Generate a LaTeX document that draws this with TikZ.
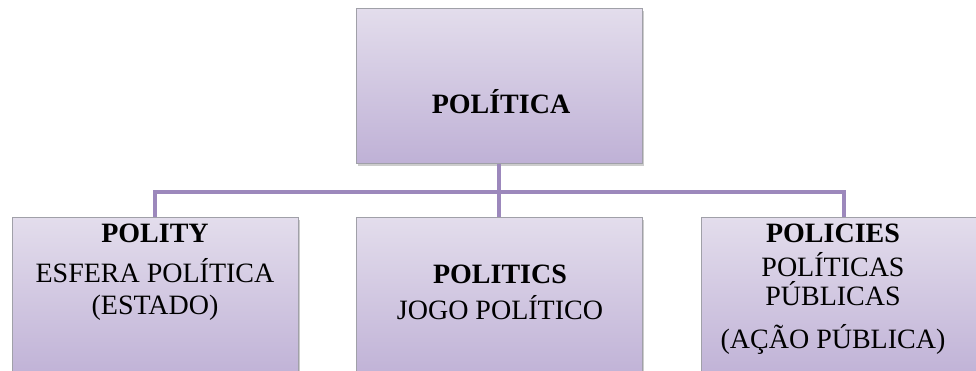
\documentclass[tikz,border=0pt]{standalone}
\usepackage{fontspec}
\setmainfont{Liberation Serif}
\usetikzlibrary{shadows}
\definecolor{boxtop}{HTML}{E3DDEC}
\definecolor{boxbot}{HTML}{BFB1D6}
\definecolor{linec}{HTML}{9C88BC}
\definecolor{edgec}{HTML}{A0A0A8}
\tikzset{
 box/.style={draw=edgec, line width=0.8pt, top color=boxtop, bottom color=boxbot, anchor=north west, inner sep=0pt, minimum width=286pt, minimum height=163pt,
   drop shadow={shadow xshift=1.5pt, shadow yshift=-2.5pt, opacity=0.4}},
 conn/.style={draw=linec, line width=4pt},
 lbl/.style={anchor=base, inner sep=0pt, font=\fontsize{28}{34}\selectfont},
 lblb/.style={anchor=base, inner sep=0pt, font=\fontsize{28}{34}\selectfont\bfseries}
}
\begin{document}
\begin{tikzpicture}[x=1pt,y=-1pt]
\useasboundingbox (0,0) rectangle (976,371);
\fill[white] (0,0) rectangle (976,371);
\begin{scope}
\clip (0,0) rectangle (976,371);
\node[box, minimum height=155pt] (top) at (356,8) {};
\node[box] (L) at (12,217) {};
\node[box] (M) at (356,217) {};
\node[box] (R) at (701,217) {};
\coordinate (hub) at (500,192);
\draw[conn] (top.south) -- (M.north);
\draw[conn] (L.north) |- (hub) -| (R.north);
\node[lblb] (t1) at (501,114) {POLÍTICA};
\node[lblb] (l1) at (155,243) {POLITY};
\node[lbl] (l2) at (155,282) {ESFERA POLÍTICA};
\node[lbl] (l3) at (155,314) {(ESTADO)};
\node[lblb] (m1) at (500,283) {POLITICS};
\node[lbl] (m2) at (500,319) {JOGO POLÍTICO};
\node[lblb] (r1) at (833,243) {POLICIES};
\node[lbl] (r2) at (833,276) {POLÍTICAS};
\node[lbl] (r3) at (833,305) {PÚBLICAS};
\node[lbl] (r4) at (833,348) {(AÇÃO PÚBLICA)};
\end{scope}
\end{tikzpicture}
\end{document}
